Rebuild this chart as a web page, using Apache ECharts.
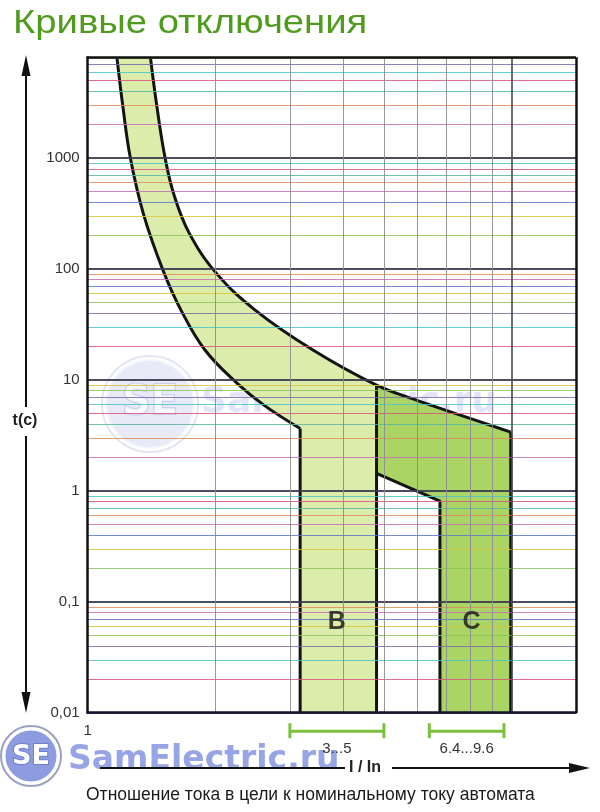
<!DOCTYPE html>
<html><head><meta charset="utf-8">
<script src="https://cdn.jsdelivr.net/npm/echarts@6/dist/echarts.min.js"></script>
<style>html,body{margin:0;padding:0;background:#fff}#c{width:600px;height:812px}</style>
</head><body><div id="c"></div>
<script>
// ---------- data ----------
const xRange = [1, 14.2];
const yRange = [0.01, 8100];
const yTickValues = [0.01, 0.1, 1, 10, 100, 1000];
const yTickLabels = ['0,01', '0,1', '1', '10', '100', '1000'];
const xTickValues = [1];
const xTickLabels = ['1'];
const minorSteps = [2, 3, 4, 5, 6, 7, 8, 9];
const xMinorGrid = [2, 3, 4, 5, 6, 7, 8, 9];
const xMajorGrid = [10];

// B: lower (fast) boundary curve, then vertical drop
const bLowerCurve = [[1.172, 8100], [1.211, 2884], [1.261, 1000], [1.354, 312.6], [1.505, 97.7], [1.660, 42.6], [1.891, 18.6], [2.250, 9.36], [2.605, 5.93], [3.172, 3.65]];
const bLowerDrop = [[3.172, 3.65], [3.172, 0.01]];
// upper boundary curve of B, continuing as upper boundary of C
const upperBCurve = [[1.406, 8100], [1.457, 2884], [1.523, 1000], [1.599, 463.8], [1.736, 210.7], [2.011, 91.8], [2.484, 42.6], [3.400, 18.6], [4.804, 8.97]];
const upperCCurve = [[4.804, 8.97], [5.970, 6.57], [7.152, 5.18], [8.556, 4.12], [9.96, 3.38]];
const cRightDrop = [[9.96, 3.38], [9.96, 0.01]];
const bRightEdge = [[4.804, 8.97], [4.804, 0.01]];
const cLowerEdge = [[4.804, 1.435], [6.78, 0.807], [6.78, 0.01]];

const zoneNames = ['B', 'C'];
const zoneLabelPos = [[3.87, 0.066], [8.05, 0.066]];
const bracketStart = [3, 6.4];
const bracketEnd = [5, 9.6];
const bracketLabels = ['3...5', '6.4...9.6'];

// ---------- build ----------
const FONT = '"Liberation Sans", Arial, sans-serif';
const polyB = bLowerCurve.concat(bLowerDrop.slice(1), [[4.804, 0.01]], upperBCurve.slice().reverse());
const polyC = upperCCurve.concat(cRightDrop.slice(1), cLowerEdge.slice().reverse(), [[4.804, 8.97]]);
const polys = [polyB, polyC];
const fills = ['#dcedab', '#aad565'];

const palette = ['#d9537a', '#4cc3c8', '#7a6aa8', '#8cc45a', '#d6c63c', '#5a78c8', '#c66cb4', '#e08a5a', '#58b8a0'];
const gridLines = [];
yTickValues.forEach((d, i) => {
  gridLines.push({ yAxis: d, lineStyle: { color: '#3a3a4e', width: 1.8, opacity: 0.9, type: 'solid' } });
  minorSteps.forEach((m, j) => {
    const v = d * m;
    if (v < yRange[1]) gridLines.push({ yAxis: v, lineStyle: { color: palette[(i * 3 + j) % palette.length], width: 1.1, opacity: 0.85, type: 'solid' } });
  });
});
xMinorGrid.forEach(v => gridLines.push({ xAxis: v, lineStyle: { color: '#8c8c8c', width: 1, opacity: 0.9, type: 'solid' } }));
xMajorGrid.forEach(v => gridLines.push({ xAxis: v, lineStyle: { color: '#4a4a4a', width: 1.6, type: 'solid' } }));
const borderLines = [
  { xAxis: xRange[1], lineStyle: { color: '#111', width: 2.5, type: 'solid' } },
  { yAxis: yRange[1], lineStyle: { color: '#111', width: 2.5, type: 'solid' } }
];

function isTick(v, t) { return Math.abs(Math.log10(v) - Math.log10(t)) < 1e-6; }

const curveStyle = { color: '#141414', width: 3 };
function lineSeries(data, smooth) {
  return { type: 'line', data: data, showSymbol: false, symbol: 'none', smooth: smooth ? 0.4 : false,
    lineStyle: curveStyle, z: 4, silent: true, animation: false };
}

const option = {
  animation: false,
  grid: { left: 87.7, right: 24, top: 57.3, bottom: 99.3, containLabel: false },
  xAxis: {
    type: 'log', logBase: 10, min: xRange[0], max: xRange[1], z: 10,
    axisLine: { show: true, lineStyle: { color: '#141433', width: 2.5 } },
    axisTick: { show: false }, splitLine: { show: false },
    axisLabel: { margin: 11, fontSize: 15, color: '#333', fontFamily: FONT,
      formatter: v => { const k = xTickValues.findIndex(t => isTick(v, t)); return k >= 0 ? xTickLabels[k] : ''; } }
  },
  yAxis: {
    type: 'log', logBase: 10, min: yRange[0], max: yRange[1], z: 10,
    axisLine: { show: true, lineStyle: { color: '#111', width: 2.5 } },
    axisTick: { show: false }, splitLine: { show: false },
    axisLabel: { margin: 8, fontSize: 15, color: '#333', fontFamily: FONT,
      formatter: v => { const k = yTickValues.findIndex(t => isTick(v, t)); return k >= 0 ? yTickLabels[k] : ''; } }
  },
  series: [
    { type: 'custom', name: 'zones', z: 1, silent: true, animation: false,
      data: [[1, 1], [1, 1]],
      renderItem: (params, api) => ({
        type: 'polygon',
        shape: { points: polys[params.dataIndex].map(p => api.coord(p)) },
        style: { fill: fills[params.dataIndex] }
      }) },
    { type: 'line', name: 'grid', data: [[1, 1]], showSymbol: false, symbol: 'none', lineStyle: { opacity: 0 }, z: 2, silent: true,
      markLine: { silent: true, symbol: ['none', 'none'], label: { show: false }, animation: false, lineStyle: { type: 'solid' }, data: gridLines } },
    { type: 'line', name: 'border', data: [[1, 1]], showSymbol: false, symbol: 'none', lineStyle: { opacity: 0 }, z: 5, silent: true,
      markLine: { silent: true, symbol: ['none', 'none'], label: { show: false }, animation: false, lineStyle: { type: 'solid' }, data: borderLines } },
    lineSeries(bLowerCurve, true),
    lineSeries(bLowerDrop, false),
    lineSeries(upperBCurve.concat(upperCCurve.slice(1)), true),
    lineSeries(cRightDrop, false),
    lineSeries(bRightEdge, false),
    lineSeries(cLowerEdge, false),
    { type: 'scatter', name: 'labels', z: 6, silent: true, symbolSize: 1, itemStyle: { color: 'transparent' },
      data: zoneNames.map((n, i) => ({ name: n, value: zoneLabelPos[i] })),
      label: { show: true, position: 'inside', formatter: '{b}', fontSize: 25, fontWeight: 'bold', color: '#151515', fontFamily: FONT } },
    { type: 'custom', name: 'brackets', z: 6, silent: true, clip: false, animation: false,
      data: bracketStart.map((s, i) => [s, bracketEnd[i]]),
      renderItem: (params, api) => {
        const i = params.dataIndex;
        const a = api.coord([bracketStart[i], yRange[0]]);
        const b = api.coord([bracketEnd[i], yRange[0]]);
        const y0 = a[1] + 18.5;
        const st = { stroke: '#7bc23c', lineWidth: 3 };
        return { type: 'group', children: [
          { type: 'line', shape: { x1: a[0], y1: y0, x2: b[0], y2: y0 }, style: st },
          { type: 'line', shape: { x1: a[0], y1: y0 - 8, x2: a[0], y2: y0 + 7 }, style: st },
          { type: 'line', shape: { x1: b[0], y1: y0 - 8, x2: b[0], y2: y0 + 7 }, style: st },
          { type: 'text', x: (a[0] + b[0]) / 2, y: y0 + 17.5,
            style: { text: bracketLabels[i], fill: '#333', font: '15px ' + FONT, align: 'center', verticalAlign: 'middle', textAlign: 'center', textVerticalAlign: 'middle' } }
        ] };
      } }
  ],
  graphic: [
    // title
    { type: 'text', x: 13, y: 24, scaleX: 1.125, z: 20,
      style: { text: 'Кривые отключения', fill: '#4f9b1d', font: '34px ' + FONT, verticalAlign: 'middle', textVerticalAlign: 'middle' } },
    // y arrow
    { type: 'line', z: 20, shape: { x1: 26, y1: 66, x2: 26, y2: 700 }, style: { stroke: '#111', lineWidth: 2 } },
    { type: 'polygon', z: 20, shape: { points: [[26, 55], [21.5, 76], [30.5, 76]] }, style: { fill: '#111' } },
    { type: 'polygon', z: 20, shape: { points: [[26, 713], [21.5, 692], [30.5, 692]] }, style: { fill: '#111' } },
    { type: 'rect', z: 20, shape: { x: 10, y: 407, width: 32, height: 29 }, style: { fill: '#fff' } },
    { type: 'text', z: 21, x: 25, y: 421,
      style: { text: 't(c)', fill: '#222', font: 'bold 16px ' + FONT, align: 'center', verticalAlign: 'middle', textAlign: 'center', textVerticalAlign: 'middle' } },
    // watermark middle
    { type: 'group', z: 30, children: [
      { type: 'circle', shape: { cx: 150, cy: 404, r: 45 }, style: { fill: 'rgba(150,160,225,0.22)', stroke: 'rgba(255,255,255,0.6)', lineWidth: 4 } },
      { type: 'circle', shape: { cx: 150, cy: 404, r: 48 }, style: { fill: 'none', stroke: 'rgba(140,150,210,0.25)', lineWidth: 2 } },
      { type: 'text', x: 150, y: 404, style: { text: 'SE', fill: 'rgba(255,255,255,0.7)', stroke: 'rgba(140,150,215,0.35)', lineWidth: 2, font: 'bold 40px "DejaVu Sans"', align: 'center', verticalAlign: 'middle', textAlign: 'center', textVerticalAlign: 'middle' } },
      { type: 'text', x: 201, y: 403, style: { text: 'SamElectric.ru', fill: 'rgba(150,160,225,0.28)', stroke: 'rgba(255,255,255,0.35)', lineWidth: 2, font: 'bold 36px "DejaVu Sans"', verticalAlign: 'middle', textVerticalAlign: 'middle' } }
    ] },
    // x arrow
    { type: 'line', z: 20, shape: { x1: 100, y1: 768, x2: 345, y2: 768 }, style: { stroke: '#111', lineWidth: 2 } },
    { type: 'line', z: 20, shape: { x1: 392, y1: 768, x2: 574, y2: 768 }, style: { stroke: '#111', lineWidth: 2 } },
    { type: 'polygon', z: 20, shape: { points: [[590, 768], [569, 763], [569, 773]] }, style: { fill: '#111' } },
    { type: 'text', z: 21, x: 349, y: 768,
      style: { text: 'I / In', fill: '#222', font: 'bold 16px ' + FONT, verticalAlign: 'middle', textVerticalAlign: 'middle' } },
    // caption
    { type: 'text', z: 21, x: 86, y: 795,
      style: { text: 'Отношение тока в цели к номинальному току автомата', fill: '#1a1a1a', font: '17.5px ' + FONT, verticalAlign: 'middle', textVerticalAlign: 'middle' } },
    // watermark bottom
    { type: 'group', z: 40, children: [
      { type: 'circle', shape: { cx: 31, cy: 756, r: 30 }, style: { fill: 'none', stroke: 'rgba(110,120,170,0.7)', lineWidth: 2 } },
      { type: 'circle', shape: { cx: 31, cy: 756, r: 27 }, style: { fill: '#8d9be0', stroke: '#ffffff', lineWidth: 3 } },
      { type: 'text', x: 31, y: 757, style: { text: 'SE', fill: '#ffffff', stroke: '#6f7fcc', lineWidth: 2, font: 'bold 27px "DejaVu Sans"', align: 'center', verticalAlign: 'middle', textAlign: 'center', textVerticalAlign: 'middle' } },
      { type: 'text', x: 68, y: 760, style: { text: 'SamElectric.ru', fill: '#97a5e6', stroke: '#ffffff', lineWidth: 3, font: 'bold 33px "DejaVu Sans"', verticalAlign: 'middle', textVerticalAlign: 'middle' } }
    ] }
  ]
};
const chart = echarts.init(document.getElementById('c'));
chart.setOption(option);
</script>
</body></html>
